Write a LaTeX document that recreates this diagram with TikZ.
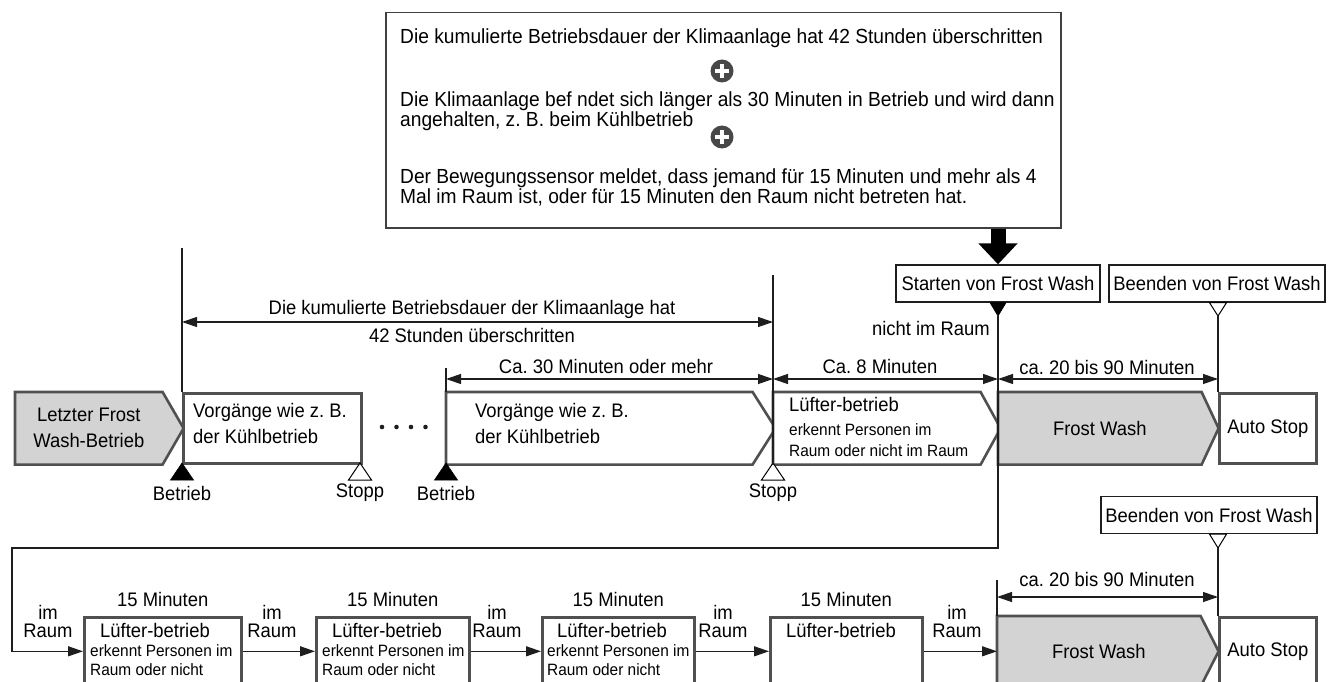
\documentclass[tikz,border=0pt]{standalone}
\usepackage{fontspec}
\setmainfont{Liberation Sans}[FakeStretch=0.94]
\usetikzlibrary{arrows.meta,calc,backgrounds}
\frenchspacing
\definecolor{inkdark}{RGB}{30,30,30}
\definecolor{boxline}{RGB}{80,80,80}
\definecolor{washgray}{RGB}{211,211,211}
\definecolor{plusgray}{RGB}{72,72,72}
\newcommand{\fsmain}{\fontsize{19.6}{26}\selectfont}
\newcommand{\fssmall}{\fontsize{16.4}{19}\selectfont}
\newcommand{\fstop}{\fontsize{20.4}{20}\selectfont}
\tikzset{
  opbox/.style={rectangle, draw=boxline, line width=2.6pt, fill=white, minimum height=70pt,
                inner sep=0pt, anchor=north west, font=\fsmain, align=center},
  bodybox/.style={opbox, draw=none, fill=none},
  pentline/.style={draw=boxline, line width=2.6pt, line join=miter},
  tagbox/.style={rectangle, draw=inkdark, line width=1.3pt, fill=white, minimum height=37pt,
                 inner sep=0pt, font=\fsmain},
  condbox/.style={rectangle, draw=inkdark!85, line width=1.5pt, inner sep=0pt, anchor=north west},
  toptxt/.style={font=\fstop, align=left, inner sep=0pt, anchor=north west},
  lbl/.style={font=\fsmain, align=center, inner sep=0pt},
  boxtxt/.style={font=\fsmain, align=left, inner sep=0pt, anchor=north west},
  imlbl/.style={font=\fontsize{19.6}{18}\selectfont, align=center, inner sep=0pt},
  plusicon/.style={circle, fill=plusgray, minimum size=23pt, inner sep=0pt,
    path picture={\draw[white, line width=4.6pt]
      ($(path picture bounding box.center)+(-7,0)$) -- ($(path picture bounding box.center)+(7,0)$)
      ($(path picture bounding box.center)+(0,-7)$) -- ($(path picture bounding box.center)+(0,7)$);}},
  guide/.style={draw=inkdark, line width=1.2pt},
  dim/.style={guide, {Triangle[length=15pt,width=10pt]}-{Triangle[length=15pt,width=10pt]}},
  flow/.style={guide, -{Triangle[length=15pt,width=10pt]}},
  bigarrow/.style={draw=black, line width=15pt, -{Triangle[length=21pt,width=38pt]}},
  runmark/.style={fill=black, draw=black, line width=0.6pt},
  stopmark/.style={fill=white, draw=black, line width=1pt},
}

\begin{document}
\begin{tikzpicture}[x=1pt, y=-1pt]
  \useasboundingbox (0,0) rectangle (1330,682);

  % conditions for the start
  \node[condbox, minimum width=675pt, minimum height=215pt] (cond) at (385,12) {};
  \node[toptxt] (c1) at (400,29) {Die kumulierte Betriebsdauer der Klimaanlage hat 42 Stunden überschritten};
  \node[plusicon] (p1) at (722,71) {};
  \node[toptxt] (c2) at (400,92) {Die Klimaanlage bef ndet sich länger als 30 Minuten in Betrieb und wird dann\\angehalten, z. B. beim Kühlbetrieb};
  \node[plusicon] (p2) at (722,137) {};
  \node[toptxt] (c3) at (400,169) {Der Bewegungssensor meldet, dass jemand für 15 Minuten und mehr als 4\\Mal im Raum ist, oder für 15 Minuten den Raum nicht betreten hat.};

  \node[tagbox, minimum width=204pt] (start) at (998,283.5) {Starten von Frost Wash};
  \node[tagbox, minimum width=216pt] (stop1) at (1217,283.5) {Beenden von Frost Wash};
  \draw[bigarrow] (cond.south -| start.north) -- (start.north);

  % time marks
  \coordinate (m1) at (182,248);
  \coordinate (m2) at (446,368);
  \coordinate (m3) at (773,275);
  \coordinate (m4) at (998,316);
  \coordinate (m5) at (1218,316);
  \coordinate (m6) at (997,580);
  \coordinate (m7) at (1218,548);

  % upper row
  \node[bodybox, minimum width=145pt] (last) at (15,392) {Letzter Frost\\Wash-Betrieb};
  \node[opbox, minimum width=178pt] (op1) at (182,392) {};
  \node[boxtxt] (op1t) at (193,403) {Vorgänge wie z. B.\\der Kühlbetrieb};
  \node[bodybox, minimum width=304pt] (op2) at (446,392) {};
  \node[boxtxt] (op2t) at (475,403) {Vorgänge wie z. B.\\der Kühlbetrieb};
  \node[bodybox, minimum width=205pt] (fan1) at (773,392) {};
  \node[boxtxt, font=\fontsize{16.4}{21}\selectfont] (fan1t) at (789,397) {{\fsmain Lüfter-betrieb}\\[3pt]erkennt Personen im\\Raum oder nicht im Raum};
  \node[bodybox, minimum width=201pt] (wash1) at (998,392) {Frost Wash};
  \node[opbox, minimum width=97pt] (auto1) at (1218,392) {Auto Stop};

  \foreach \x in {382,396.5,411,425.5}
    \fill[inkdark] (\x,427) circle (2.3);

  % lower row
  \node[tagbox, minimum width=216pt] (stop2) at (1209,515) {Beenden von Frost Wash};
  \node[opbox, minimum width=157pt, minimum height=68pt] (b1) at (83,616) {};
  \node[boxtxt, font=\fssmall] (b1t) at (90,623) {{\fsmain\hspace*{10pt}Lüfter-betrieb}\\erkennt Personen im\\Raum oder nicht};
  \node[opbox, minimum width=153pt, minimum height=68pt] (b2) at (315,616) {};
  \node[boxtxt, font=\fssmall] (b2t) at (322,623) {{\fsmain\hspace*{10pt}Lüfter-betrieb}\\erkennt Personen im\\Raum oder nicht};
  \node[opbox, minimum width=152pt, minimum height=68pt] (b3) at (541,616) {};
  \node[boxtxt, font=\fssmall] (b3t) at (547,623) {{\fsmain\hspace*{10pt}Lüfter-betrieb}\\erkennt Personen im\\Raum oder nicht};
  \node[opbox, minimum width=152pt, minimum height=68pt] (b4) at (769,616) {};
  \node[boxtxt] (b4t) at (786,623) {Lüfter-betrieb};
  \node[bodybox, minimum width=201pt, minimum height=68pt] (wash2) at (997,616) {Frost Wash};
  \node[opbox, minimum width=97pt, minimum height=68pt] (auto2) at (1218,616) {Auto Stop};

  \begin{scope}[on background layer]
    \foreach \n/\t/\c in {last/21/washgray, op2/23/white, fan1/20/white, wash1/17/washgray, wash2/18/washgray}
      \draw[pentline, fill=\c] (\n.north west) -- (\n.north east) -- ($(\n.east)+(\t,0)$)
        -- (\n.south east) -- (\n.south west) -- cycle;
  \end{scope}

  % markers
  \foreach \x/\s in {182/runmark, 360/stopmark, 446/runmark, 773/stopmark}
    \draw[\s] (\x,463) -- ++(-11.5,17) -- ++(23,0) -- cycle;
  \draw[runmark] ($(start.south)+(-8,0)$) -- ($(start.south)+(8,0)$) -- (m4) -- cycle;
  \draw[stopmark] ($(stop1.south -| m5)+(-8.5,0)$) -- ($(stop1.south -| m5)+(8.5,0)$) -- (m5) -- cycle;
  \draw[stopmark] ($(stop2.south -| m7)+(-8.5,0)$) -- ($(stop2.south -| m7)+(8.5,0)$) -- (m7) -- cycle;
  \node[lbl] (run1) at (182,493) {Betrieb};
  \node[lbl] (halt1) at (360,493) {Stopp};
  \node[lbl] (run2) at (446,493) {Betrieb};
  \node[lbl] (halt2) at (773,493) {Stopp};

  % guides and spans
  \draw[guide] (m1) -- (op1.north west);
  \draw[guide] (m2) -- (op2.north west);
  \draw[guide] (m3) -- (fan1.south west);
  \draw[guide] (m5) -- (auto1.north west);
  \draw[guide] (m6) -- (wash2.north west);
  \draw[guide] (m7) -- (auto2.north west);
  \draw[dim] (m1 |- 0,322) -- (m3 |- 0,322);
  \draw[dim] (m2 |- 0,379) -- (m3 |- 0,379);
  \draw[dim] (m3 |- 0,379) -- (m4 |- 0,379);
  \draw[dim] (m4 |- 0,379) -- (m5 |- 0,379);
  \draw[dim] (m6 |- 0,597) -- (m7 |- 0,597);
  \node[lbl] (l42a) at (472,309) {Die kumulierte Betriebsdauer der Klimaanlage hat};
  \node[lbl] (l42b) at (472,335) {42 Stunden überschritten};
  \node[lbl] (l30) at (606,366) {Ca. 30 Minuten oder mehr};
  \node[lbl] (l8) at (880,366) {Ca. 8 Minuten};
  \node[lbl] (l90a) at (1107,367) {ca. 20 bis 90 Minuten};
  \node[lbl] (l90b) at (1107,579) {ca. 20 bis 90 Minuten};
  \node[lbl, anchor=east] (absent) at (990,328) {nicht im Raum};

  % loop while people are in the room
  \draw[flow] (m4) -- (m4 |- 0,548) -- (12,548) |- (b1.west);
  \draw[flow] (b1.east) -- (b2.west);
  \draw[flow] (b2.east) -- (b3.west);
  \draw[flow] (b3.east) -- (b4.west);
  \draw[flow] (b4.east) -- (wash2.west);
  \node[imlbl] (r1) at (48,621) {im\\Raum};
  \node[imlbl] (r2) at (272,621) {im\\Raum};
  \node[imlbl] (r3) at (497,621) {im\\Raum};
  \node[imlbl] (r4) at (723,621) {im\\Raum};
  \node[imlbl] (r5) at (957,621) {im\\Raum};
  \node[lbl] (q1) at ($(b1.north)+(0,-17)$) {15 Minuten};
  \node[lbl] (q2) at ($(b2.north)+(0,-17)$) {15 Minuten};
  \node[lbl] (q3) at ($(b3.north)+(0,-17)$) {15 Minuten};
  \node[lbl] (q4) at ($(b4.north)+(0,-17)$) {15 Minuten};
\end{tikzpicture}
\end{document}
